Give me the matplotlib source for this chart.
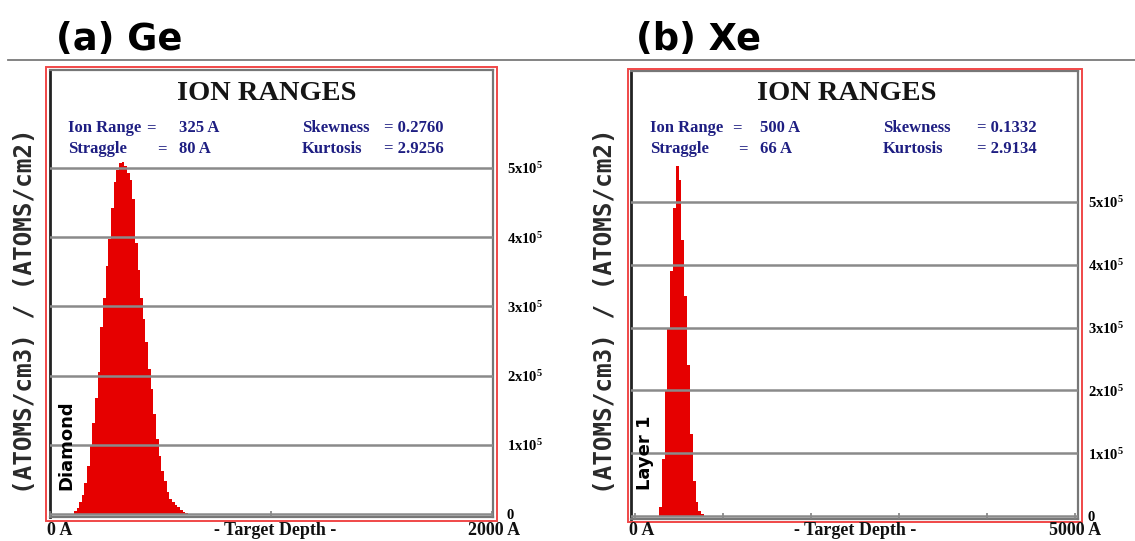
import numpy as np
import matplotlib
matplotlib.use("Agg")
import matplotlib.pyplot as plt
from matplotlib.patches import Rectangle
from matplotlib.lines import Line2D

# ---------------- data ----------------
# (a) Ge : depth histogram, bins of 12 A starting at 108 A, values in 1e5 (atoms/cm3)/(atoms/cm2)
ge_bin_start = 108
ge_bin_width = 12
ge_values = [0.04, 0.09, 0.17, 0.28, 0.45, 0.70, 1.00, 1.32, 1.68, 2.05,
             2.70, 3.12, 3.58, 3.98, 4.42, 4.80, 4.97, 5.07, 5.08, 5.03,
             4.93, 4.83, 4.55, 3.92, 3.52, 3.12, 2.82, 2.48, 2.10, 1.80,
             1.45, 1.08, 0.84, 0.62, 0.47, 0.32, 0.22, 0.17, 0.13, 0.10,
             0.06, 0.03, 0.01]
# (b) Xe : bins of 32 A starting at 272 A
xe_bin_start = 272
xe_bin_width = 32
xe_values = [0.15, 0.90, 2.00, 3.00, 3.90, 4.90, 5.58, 5.35, 4.40, 3.50,
             2.40, 1.30, 0.55, 0.22, 0.08, 0.03]

y_ticks = [0, 1, 2, 3, 4, 5]
y_tick_labels = ["0", "1x10$^5$", "2x10$^5$", "3x10$^5$", "4x10$^5$", "5x10$^5$"]

ge_stats = {"range": "325 A", "straggle": "80 A", "skew": "= 0.2760", "kurt": "= 2.9256"}
xe_stats = {"range": "500 A", "straggle": "66 A", "skew": "= 0.1332", "kurt": "= 2.9134"}

# ---------------- style ----------------
plt.rcParams["mathtext.fontset"] = "custom"
plt.rcParams["mathtext.rm"] = "Liberation Serif:bold"
plt.rcParams["mathtext.it"] = "Liberation Serif:bold"
plt.rcParams["mathtext.bf"] = "Liberation Serif:bold"

W, H = 1135, 541
fig = plt.figure(figsize=(W / 100, H / 100), dpi=100)
fig.patch.set_facecolor("white")


def fx(p):
    return p / W


def fy(p):
    return 1 - p / H


RED = "#e60000"
FRAME = "#f04848"
GRID = "#8a8a8a"
NAVY = "#1e1e82"
SERIF = "Liberation Serif"


def panel(ax_px, frame_px, xlim, ylim, bin_start, bin_w, vals, xticks,
          tick_pad, title_cx, stats, stat_x, layer_text, layer_x, ylab_x,
          label_0_x, depth_cx, end_label, end_right):
    l, t, r, b = ax_px
    ax = fig.add_axes([fx(l), fy(b), fx(r) - fx(l), fy(t) - fy(b)])
    edges = bin_start + bin_w * np.arange(len(vals) + 1)
    ax.stairs(np.array(vals) * 1e5, edges, fill=True, color=RED, lw=0, zorder=1)
    ax.set_xlim(*xlim)
    ax.set_ylim(ylim[0] * 1e5, ylim[1] * 1e5)
    ax.set_yticks(np.array(y_ticks) * 1e5)
    ax.set_yticklabels(y_tick_labels)
    ax.yaxis.tick_right()
    ax.tick_params(axis="y", length=0, pad=tick_pad, labelsize=10.5)
    for lab in ax.get_yticklabels():
        lab.set_fontfamily(SERIF)
        lab.set_fontweight("bold")
    ax.set_xticks(xticks)
    ax.tick_params(axis="x", direction="in", length=4, width=1.2, color="#808080",
                   labelbottom=False)
    ax.grid(axis="y", color=GRID, lw=1.8, zorder=3)
    ax.set_axisbelow(False)
    for s in ["top", "right", "bottom"]:
        ax.spines[s].set_color("#777777")
        ax.spines[s].set_linewidth(1.6)
    ax.spines["left"].set_color("#222222")
    ax.spines["left"].set_linewidth(2.0)

    fl, ft, fr, fb = frame_px
    fig.add_artist(Rectangle((fx(fl), fy(fb)), fx(fr) - fx(fl), fy(ft) - fy(fb),
                             transform=fig.transFigure, fill=False,
                             edgecolor=FRAME, lw=1.4))

    fig.text(fx(title_cx), fy(100), "ION RANGES", ha="center", va="baseline",
             fontsize=20.5, fontweight="bold", family=SERIF, color="#151515")
    sx = stat_x
    kw = dict(va="baseline", fontsize=12, fontweight="bold", family=SERIF, color=NAVY)
    fig.text(fx(sx[0]), fy(132), "Ion Range", **kw)
    fig.text(fx(sx[1]), fy(132), "=", **kw)
    fig.text(fx(sx[3]), fy(132), stats["range"], **kw)
    fig.text(fx(sx[0]), fy(153), "Straggle", **kw)
    fig.text(fx(sx[2]), fy(153), "=", **kw)
    fig.text(fx(sx[3]), fy(153), stats["straggle"], **kw)
    fig.text(fx(sx[4]), fy(132), "Skewness", **kw)
    fig.text(fx(sx[5]), fy(132), stats["skew"], **kw)
    fig.text(fx(sx[4]), fy(153), "Kurtosis", **kw)
    fig.text(fx(sx[5]), fy(153), stats["kurt"], **kw)

    fig.text(fx(layer_x), fy(490), layer_text, rotation=90, ha="center", va="bottom",
             fontsize=13, fontweight="bold", family="DejaVu Sans", color="black")
    fig.text(fx(ylab_x), fy(311), "(ATOMS/cm3) / (ATOMS/cm2)", rotation=90,
             ha="center", va="center", fontsize=17.5, fontweight="bold",
             family="DejaVu Sans Mono", color="#2a2a2a")

    bkw = dict(va="baseline", fontsize=13, fontweight="bold", family=SERIF, color="#111111")
    fig.text(fx(label_0_x), fy(535), "0 A", ha="left", **bkw)
    fig.text(fx(depth_cx), fy(535), "- Target Depth -", ha="center", **bkw)
    fig.text(fx(end_right), fy(535), end_label, ha="right", **bkw)
    return ax


# (a) Ge
panel(ax_px=(49.5, 70, 493, 517), frame_px=(46, 67, 497, 521),
      xlim=(-2.3, 2004.5), ylim=(-0.043, 6.416),
      bin_start=ge_bin_start, bin_w=ge_bin_width, vals=ge_values,
      xticks=[0, 1000, 2000], tick_pad=10, title_cx=267,
      stats=ge_stats, stat_x=(68, 146, 157, 179, 302, 384),
      layer_text="Diamond", layer_x=66, ylab_x=25,
      label_0_x=47, depth_cx=275, end_label="2000 A", end_right=520)

# (b) Xe
panel(ax_px=(631, 71, 1078, 519), frame_px=(628, 69, 1082, 522),
      xlim=(-45, 5034), ylim=(-0.048, 7.086),
      bin_start=xe_bin_start, bin_w=xe_bin_width, vals=xe_values,
      xticks=[0, 1000, 2000, 3000, 4000, 5000], tick_pad=7, title_cx=847,
      stats=xe_stats, stat_x=(650, 732, 738, 760, 883, 977),
      layer_text="Layer 1", layer_x=645, ylab_x=605,
      label_0_x=629, depth_cx=855, end_label="5000 A", end_right=1101)

# panel titles and separator line
fig.text(fx(56), fy(50), "(a) Ge", ha="left", va="baseline", fontsize=26.5,
         fontweight="bold", family="DejaVu Sans", color="black")
fig.text(fx(636), fy(50), "(b) Xe", ha="left", va="baseline", fontsize=26.5,
         fontweight="bold", family="DejaVu Sans", color="black")
fig.add_artist(Line2D([fx(8), 1.0], [fy(59.5), fy(59.5)], transform=fig.transFigure,
                      color="#7a7a7a", lw=1.3))

fig.savefig("out.png", dpi=100)
